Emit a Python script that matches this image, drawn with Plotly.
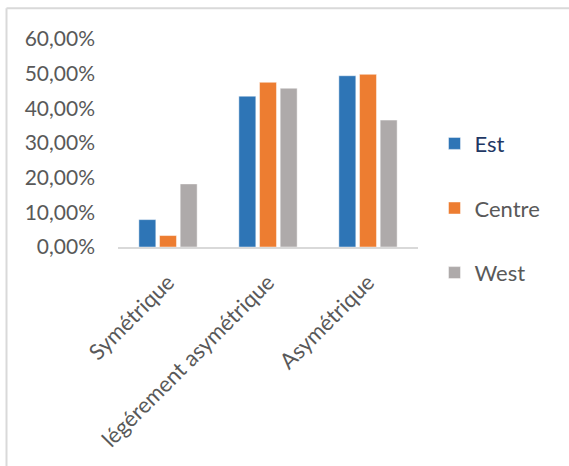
import plotly.graph_objects as go

# Catégories de symétrie et parts par région (en %)
categories = ["Symétrique", "légérement asymétrique", "Asymétrique"]
est = [7.9, 43.5, 49.4]
centre = [3.3, 47.5, 49.8]
west = [18.2, 45.8, 36.6]

y_ticks = [0, 10, 20, 30, 40, 50, 60]
y_tick_text = ["0,00%", "10,00%", "20,00%", "30,00%", "40,00%", "50,00%", "60,00%"]

FONT = "Lato, 'Open Sans', sans-serif"
GREY_TEXT = "#595959"

series = [
    ("<span style='color:#1F3864'>Est</span>", est, "#2E75B6"),
    ("Centre", centre, "#ED7D31"),
    ("West", west, "#AEAAAA"),
]

fig = go.Figure()
for i, (name, vals, color) in enumerate(series):
    fig.add_trace(go.Bar(
        x=categories, y=vals, name=name,
        marker=dict(color=color, line=dict(color="rgba(255,255,255,0.45)", width=1)),
        legendgroup=f"g{i}",
    ))

fig.update_layout(
    width=569, height=466,
    margin=dict(l=118, r=151, t=38.5, b=218.5),
    paper_bgcolor="white", plot_bgcolor="white",
    barmode="group", bargap=0.38, bargroupgap=0.18,
    font=dict(family=FONT, size=21, color=GREY_TEXT),
    showlegend=True,
    legend=dict(
        x=1.055, xanchor="left", y=0.187, yanchor="middle",
        traceorder="grouped", tracegroupgap=33,
        font=dict(family=FONT, size=22, color=GREY_TEXT),
        bgcolor="rgba(0,0,0,0)",
    ),
    xaxis=dict(
        showline=True, linecolor="#D9D9D9", linewidth=1.5,
        showgrid=False, ticks="", tickangle=-45,
        ticklabelstandoff=12,
        tickfont=dict(family=FONT, size=22, color=GREY_TEXT),
    ),
    yaxis=dict(
        range=[0, 60], tickvals=y_ticks, ticktext=y_tick_text,
        showgrid=False, showline=False, zeroline=False, ticks="",
        ticklabelstandoff=22,
        tickfont=dict(family=FONT, size=21, color=GREY_TEXT),
    ),
    shapes=[
        # chart frame (left and top edges)
        dict(type="line", xref="paper", yref="paper",
             x0=-0.3717, x1=-0.3717, y0=1.148, y1=-1.1,
             line=dict(color="#D9D9D9", width=2)),
        dict(type="line", xref="paper", yref="paper",
             x0=-0.3717, x1=1.6, y0=1.148, y1=1.148,
             line=dict(color="#D9D9D9", width=2)),
    ],
)

fig.write_html("out.html")
